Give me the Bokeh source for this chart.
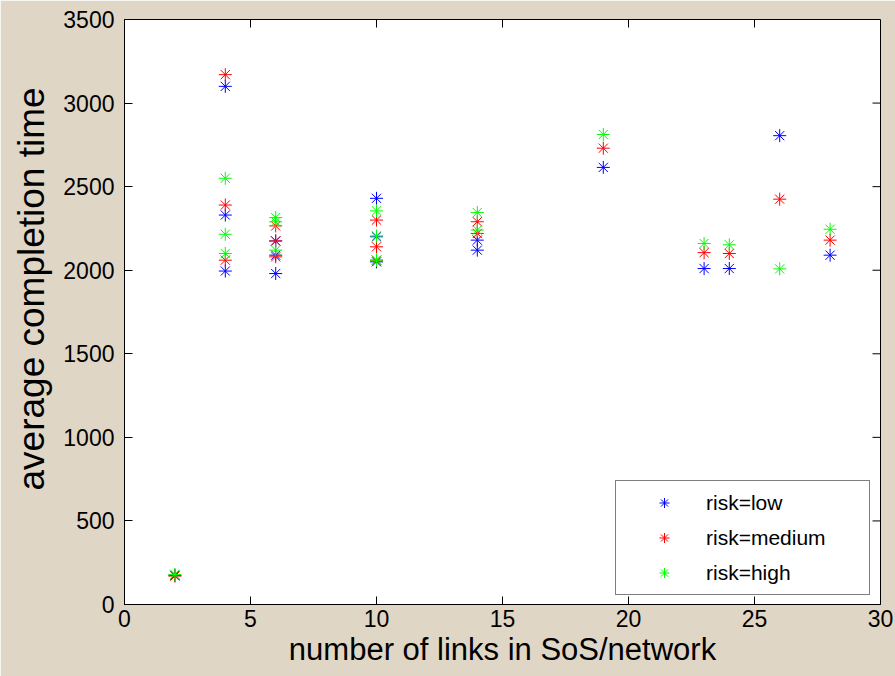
import math
from bokeh.plotting import figure
from bokeh.models import Legend, LegendItem, FixedTicker, Range1d, Title
from bokeh.embed import file_html
from bokeh.resources import INLINE

x_vals = [2, 4, 4, 4, 6, 6, 6, 10, 10, 10, 14, 14, 19, 23, 24, 26, 28]
y_low = [175, 3100, 2330, 1995, 2175, 2090, 1980, 2430, 2200, 2050, 2180, 2120, 2615, 2010, 2010, 2805, 2090]
y_medium = [170, 3170, 2390, 2060, 2265, 2175, 2080, 2300, 2140, 2060, 2290, 2220, 2730, 2105, 2100, 2425, 2180]
y_high = [180, 2550, 2215, 2100, 2315, 2290, 2120, 2355, 2205, 2060, 2345, 2240, 2812, 2160, 2152, 2008, 2245]

series_names = ["risk=low", "risk=medium", "risk=high"]
series_colors = ["#0000ff", "#ff0000", "#00ff00"]
x_ticks = [0, 5, 10, 15, 20, 25, 30]
y_ticks = [0, 500, 1000, 1500, 2000, 2500, 3000, 3500]

BG = "#e0d6c6"
FONT = "Liberation Sans"

p = figure(width=895, height=676, output_backend="svg", toolbar_location=None,
           x_range=Range1d(0, 30), y_range=Range1d(0, 3500),
           min_border_left=124, min_border_right=15, min_border_top=19, min_border_bottom=72)
p.background_fill_color = "white"
p.border_fill_color = BG
p.outline_line_color = "black"
p.outline_line_width = 1
p.xgrid.visible = False
p.ygrid.visible = False

# inward ticks on the top and right edges (box style)
x_max = x_ticks[-1]
y_max = y_ticks[-1]
p.scatter(x_ticks[1:-1], [y_max] * (len(x_ticks) - 2), marker="dash", angle=math.pi / 2,
          size=16, line_color="black", line_width=1)
p.scatter([x_max] * (len(y_ticks) - 2), y_ticks[1:-1], marker="dash",
          size=16, line_color="black", line_width=1)

renderers = []
for ys, c in zip([y_low, y_medium, y_high], series_colors):
    r = p.scatter(x_vals, ys, marker="asterisk", size=13, line_color=c, line_width=1)
    renderers.append(r)

for ax in (p.xaxis[0], p.yaxis[0]):
    ax.major_tick_in = 8
    ax.major_tick_out = 0
    ax.minor_tick_line_color = None
    ax.axis_line_color = "black"
    ax.major_tick_line_color = "black"
    ax.major_label_text_font = FONT
    ax.major_label_text_font_size = "23px"
    ax.major_label_text_color = "black"
    ax.axis_label_text_font = FONT
    ax.axis_label_text_font_style = "normal"
    ax.axis_label_text_color = "black"

p.xaxis[0].ticker = FixedTicker(ticks=x_ticks)
p.yaxis[0].ticker = FixedTicker(ticks=y_ticks)
p.xaxis[0].axis_label = "number of links in SoS/network"
p.xaxis[0].axis_label_text_font_size = "31px"
p.xaxis[0].major_label_standoff = 5
p.yaxis[0].major_label_standoff = 10
p.xaxis[0].axis_label_standoff = 2

ylab = Title(text="average completion time", align="left", offset=114,
             text_font=FONT, text_font_size="37px", text_font_style="normal",
             text_color="black", standoff=17)
p.add_layout(ylab, "left")

legend = Legend(items=[LegendItem(label=n, renderers=[r]) for n, r in zip(series_names, renderers)],
                location=(491, 9))
legend.label_text_font = FONT
legend.label_text_font_size = "21px"
legend.label_text_color = "black"
legend.border_line_color = "black"
legend.border_line_width = 1
legend.background_fill_color = "white"
legend.background_fill_alpha = 1
legend.padding = 9
legend.spacing = 10
legend.label_height = 25
legend.glyph_height = 25
legend.glyph_width = 78
legend.label_standoff = 3
legend.label_width = 154
legend.margin = 0
p.add_layout(legend, "center")

open("out.html", "w").write(file_html(p, INLINE))
